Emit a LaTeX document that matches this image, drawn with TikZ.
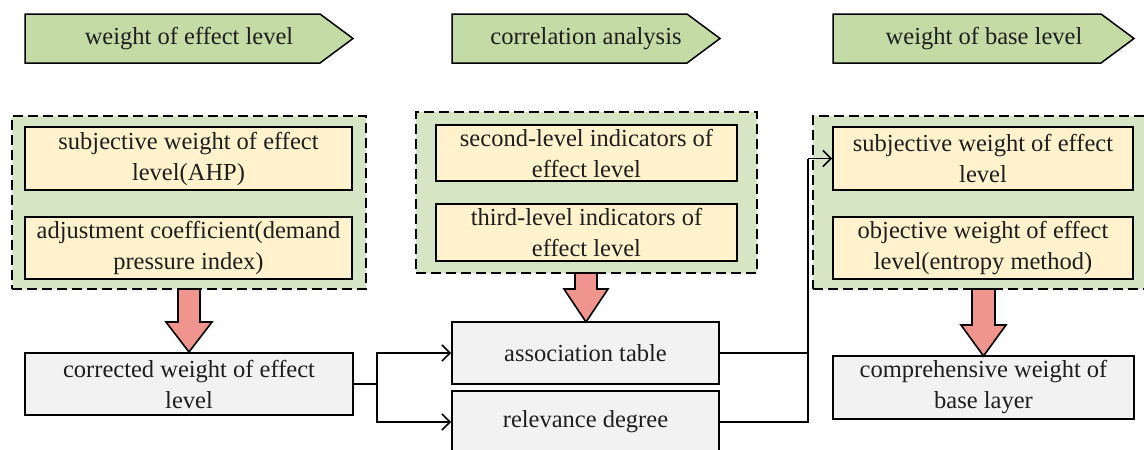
\documentclass[tikz,border=0pt]{standalone}
\usepackage{fontspec}
\setmainfont{Liberation Serif}
\usetikzlibrary{arrows.meta}
\definecolor{hdrgreen}{HTML}{C4DBA6}
\definecolor{grpgreen}{HTML}{D6E5C4}
\definecolor{cream}{HTML}{FFF2CC}
\definecolor{greybox}{HTML}{F2F2F2}
\definecolor{blockred}{HTML}{EF958D}
\definecolor{txt}{HTML}{1E1E1E}
\tikzset{
  hdrshape/.style={draw=black, fill=hdrgreen, line width=1.5pt, line join=miter},
  hdrtext/.style={inner sep=0pt, text=txt, font=\fontsize{24.5}{31}\selectfont},
  grpbox/.style={draw=black, fill=grpgreen, line width=1.8pt, dash pattern=on 10pt off 5pt, rectangle, inner sep=0pt},
  creambox/.style={draw=black, fill=cream, line width=1.8pt, rectangle, inner sep=0pt, align=center, text=txt, font=\fontsize{24.5}{31}\selectfont},
  greyb/.style={draw=black, fill=greybox, line width=1.8pt, rectangle, inner sep=0pt, align=center, text=txt, font=\fontsize{24.5}{31}\selectfont},
  blockarrow/.style={draw=black, fill=blockred, line width=1.6pt, line join=miter},
  conn/.style={draw=black, line width=1.6pt},
  connarr/.style={conn, -{Straight Barb[length=8pt,width=16pt,line width=1.6pt]}},
}
\begin{document}
\begin{tikzpicture}[x=1pt,y=-1pt]
\useasboundingbox (0,0) rectangle (1144,450);

% headers
\draw[hdrshape] (25,14) -- (320,14) -- (353,38.5) -- (320,63) -- (25,63) -- cycle;
\node[hdrtext] (h1) at (189,38.5) {weight of effect level};
\draw[hdrshape] (452,14) -- (687,14) -- (720,38.5) -- (687,63) -- (452,63) -- cycle;
\node[hdrtext] (h2) at (586,38.5) {correlation analysis};
\draw[hdrshape] (833,14) -- (1101,14) -- (1134,38.5) -- (1101,63) -- (833,63) -- cycle;
\node[hdrtext] (h3) at (984,38.5) {weight of base level};

% groups
\node[grpbox, minimum width=354pt, minimum height=173pt] (g1) at (189,202.5) {};
\node[grpbox, minimum width=341pt, minimum height=161pt] (g2) at (586.5,192.5) {};
\node[grpbox, minimum width=334pt, minimum height=173pt] (g3) at (980,202.5) {};

\node[creambox, minimum width=327pt, minimum height=63pt] (a1) at (188.5,158.5) {subjective weight of effect\\level(AHP)};
\node[creambox, minimum width=327pt, minimum height=62pt] (a2) at (188.5,248) {adjustment coefficient(demand\\pressure index)};
\node[creambox, minimum width=301pt, minimum height=56pt] (b1) at (586.5,153) {second-level indicators of\\effect level};
\node[creambox, minimum width=301pt, minimum height=57pt] (b2) at (586.5,232.5) {third-level indicators of\\effect level};
\node[creambox, minimum width=300pt, minimum height=63pt] (c1) at (983,158.5) {subjective weight of effect\\level};
\node[creambox, minimum width=300pt, minimum height=62pt] (c2) at (983,248) {objective weight of effect\\level(entropy method)};

% bottom boxes
\node[greyb, minimum width=328pt, minimum height=62pt] (d1) at (189,384) {corrected weight of effect\\level};
\node[greyb, minimum width=267pt, minimum height=62pt] (e1) at (585.5,353) {association table};
\node[greyb, minimum width=267pt, minimum height=62pt] (e2) at (585.5,422) {relevance degree};
\node[greyb, minimum width=301pt, minimum height=63pt] (f1) at (983.5,387.5) {comprehensive weight of\\base layer};

% block arrows
\draw[blockarrow] (178,289) -- (200,289) -- (200,322) -- (212,322) -- (189,352) -- (166,322) -- (178,322) -- cycle;
\draw[blockarrow] (575,273) -- (597,273) -- (597,289) -- (608,289) -- (586,322) -- (564,289) -- (575,289) -- cycle;
\draw[blockarrow] (972,289) -- (995,289) -- (995,325) -- (1006,325) -- (983.5,356) -- (961,325) -- (972,325) -- cycle;

% connectors
\coordinate (j1) at (377,384);
\coordinate (j2) at (808,158.5);
\draw[conn] (d1.east) -- (j1);
\draw[connarr] (j1) |- (e1.west);
\draw[connarr] (j1) |- (e2.west);
\draw[conn] (e1.east) -| (j2);
\draw[conn] (e2.east) -| (j2);
\draw[connarr] (j2) -- (c1.west);
\end{tikzpicture}
\end{document}
